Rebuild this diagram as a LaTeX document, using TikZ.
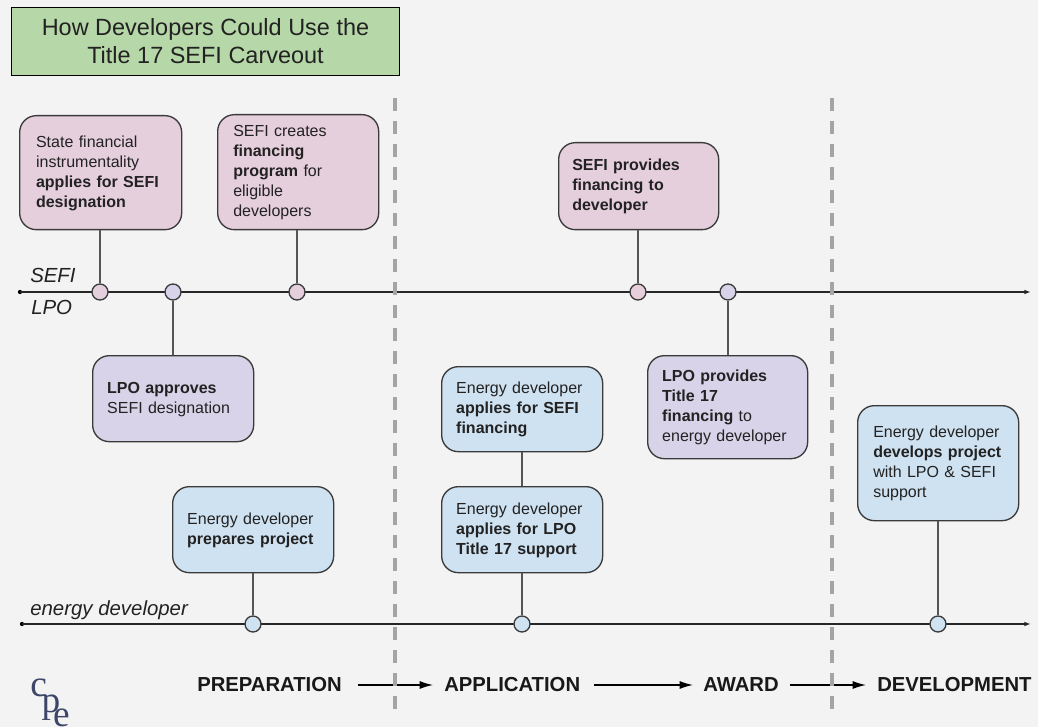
\documentclass[tikz,border=0pt]{standalone}
\usepackage{fontspec}
\setmainfont{Liberation Sans}
\newfontfamily\logofont{Liberation Serif}
\usetikzlibrary{arrows.meta,calc}
\definecolor{bgc}{HTML}{F3F3F3}
\definecolor{pinkc}{HTML}{E6CFDD}
\definecolor{lilac}{HTML}{D8D3E8}
\definecolor{bluec}{HTML}{CFE2F1}
\definecolor{greenc}{HTML}{B6D7A8}
\definecolor{inkc}{HTML}{222222}
\definecolor{edgec}{HTML}{3A3A3A}
\definecolor{stemc}{HTML}{555555}
\definecolor{dashc}{HTML}{A4A4A4}
\definecolor{logoc}{HTML}{3D4668}
\tikzset{
  dot/.style={circle,draw=edgec,line width=1pt,minimum size=12pt,inner sep=0pt},
  stem/.style={draw=stemc,line width=1pt},
  axis/.style={draw=black!85,line width=1pt,-{Latex[length=5pt,width=3.5pt]}},
  phase/.style={font=\fontsize{15.2}{17}\selectfont\bfseries,text=black!90,inner sep=0pt,anchor=west},
  lane/.style={font=\fontsize{15.3}{17}\selectfont\itshape,text=inkc,inner sep=0pt,anchor=west},
  stage/.style={draw=black,line width=1pt,-{Latex[length=10pt,width=6pt]}},
  divider/.style={draw=dashc,line width=2.3pt,dash pattern=on 10pt off 7.25pt},
  logo/.style={font=\logofont\fontsize{28}{28}\selectfont,text=logoc,inner sep=0pt}
}
\newcommand{\boxat}[8]{% name, x0, y0, x1, y1, fill, inset, text
  \path let \n1={(#4-#2)*0.75}, \n2={(#5-#3)*0.75} in
    node[draw=edgec,line width=1pt,rounded corners=12.5pt,fill=#6,anchor=north west,
      minimum width=\n1 pt,minimum height=\n2 pt,inner sep=0pt] (#1) at (#2,#3) {};
  \node[anchor=west,align=left,inner sep=0pt,text width=140pt,font=\fontsize{12}{15}\selectfont,text=inkc]
    at ([xshift=#7pt,yshift=-0.5pt]#1.west) {#8};
}
\begin{document}
\begin{tikzpicture}[x=0.75pt,y=-0.75pt]
\useasboundingbox (0,0) rectangle (1038,727);
\fill[bgc] (0,0) rectangle (1038,727);
% title
\node[draw=black,line width=0.75pt,fill=greenc,minimum width=291.5pt,minimum height=51.5pt,inner sep=0pt,
  align=center,font=\fontsize{17.6}{21}\selectfont,text=inkc] (title) at (205.5,41.5)
  {How Developers Could Use the\\Title 17 SEFI Carveout};
% axes
\coordinate (sefiA) at (20,292);
\coordinate (sefiB) at (1031,292);
\coordinate (devA) at (22,624);
\coordinate (devB) at (1031,624);
\fill[black] (sefiA) circle (1.6pt);
\fill[black] (devA) circle (1.6pt);
\draw[axis] (sefiA) -- (sefiB);
\draw[axis] (devA) -- (devB);
% dividers
\coordinate (d1a) at (395,98); \coordinate (d1b) at (395,714);
\coordinate (d2a) at (832,98); \coordinate (d2b) at (832,714);
% cards
\boxat{b1}{19}{115}{181}{229}{pinkc}{12.6}{State financial\\instrumentality\\\textbf{applies for SEFI}\\\textbf{designation}}
\boxat{b2}{217}{114}{378}{229}{pinkc}{12}{SEFI creates\\\textbf{financing}\\\textbf{program} for\\eligible\\developers}
\boxat{b3}{558}{142}{718}{229}{pinkc}{10.5}{\textbf{SEFI provides}\\\textbf{financing to}\\\textbf{developer}}
\boxat{b4}{92}{355}{253}{441}{lilac}{11.2}{\textbf{LPO approves}\\SEFI designation}
\boxat{b5}{647}{355}{807}{458}{lilac}{11.2}{\textbf{LPO provides}\\\textbf{Title 17}\\\textbf{financing} to\\energy developer}
\boxat{b6}{441}{366}{602}{451}{bluec}{11.2}{Energy developer\\\textbf{applies for SEFI}\\\textbf{financing}}
\boxat{b7}{441}{486}{602}{572}{bluec}{11.2}{Energy developer\\\textbf{applies for LPO}\\\textbf{Title 17 support}}
\boxat{b8}{172}{486}{333}{572}{bluec}{11.2}{Energy developer\\\textbf{prepares project}}
\boxat{b9}{857}{405}{1018}{520}{bluec}{12}{Energy developer\\\textbf{develops project}\\with LPO \& SEFI\\support}
% dots
\node[dot,fill=pinkc] (c1) at (100,292) {};
\node[dot,fill=lilac] (c2) at (173,292) {};
\node[dot,fill=pinkc] (c3) at (297,292) {};
\node[dot,fill=pinkc] (c4) at (638,292) {};
\node[dot,fill=lilac] (c5) at (728,292) {};
\node[dot,fill=bluec] (c6) at (253,624) {};
\node[dot,fill=bluec] (c7) at (522,624) {};
\node[dot,fill=bluec] (c8) at (938,624) {};
% stems
\draw[stem] (c1 |- b1.south) -- (c1);
\draw[stem] (c2 |- b4.north) -- (c2);
\draw[stem] (c3 |- b2.south) -- (c3);
\draw[stem] (c4 |- b3.south) -- (c4);
\draw[stem] (c5 |- b5.north) -- (c5);
\draw[stem] (c6 |- b8.south) -- (c6);
\draw[stem] (c7 |- b7.south) -- (c7);
\draw[stem] (c8 |- b9.south) -- (c8);
\draw[stem] (c7 |- b6.south) -- (c7 |- b7.north);
% lane labels
\node[lane] (l1) at (30,275) {SEFI};
\node[lane] (l2) at (31,307) {LPO};
\node[lane] (l3) at (30,610) {energy developer};
% phases
\node[phase] (p1) at (197,685) {PREPARATION};
\node[phase] (p2) at (444,685) {APPLICATION};
\node[phase] (p3) at (703,685) {AWARD};
\node[phase] (p4) at (877,685) {DEVELOPMENT};
\draw[stage,shorten <=12pt,shorten >=8.2pt] (p1.east) -- (p2.west);
\draw[stage,shorten <=10.5pt,shorten >=7.5pt] (p2.east) -- (p3.west);
\draw[stage,shorten <=8.2pt,shorten >=8.2pt] (p3.east) -- (p4.west);
\draw[divider] (d1a) -- (d1b);
\draw[divider] (d2a) -- (d2b);
% logo
\node[logo] (lc) at (38.7,688) {c};
\node[logo] (lp) at (51,708) {p};
\node[logo] (le) at (61.5,717.5) {e};
\end{tikzpicture}
\end{document}
